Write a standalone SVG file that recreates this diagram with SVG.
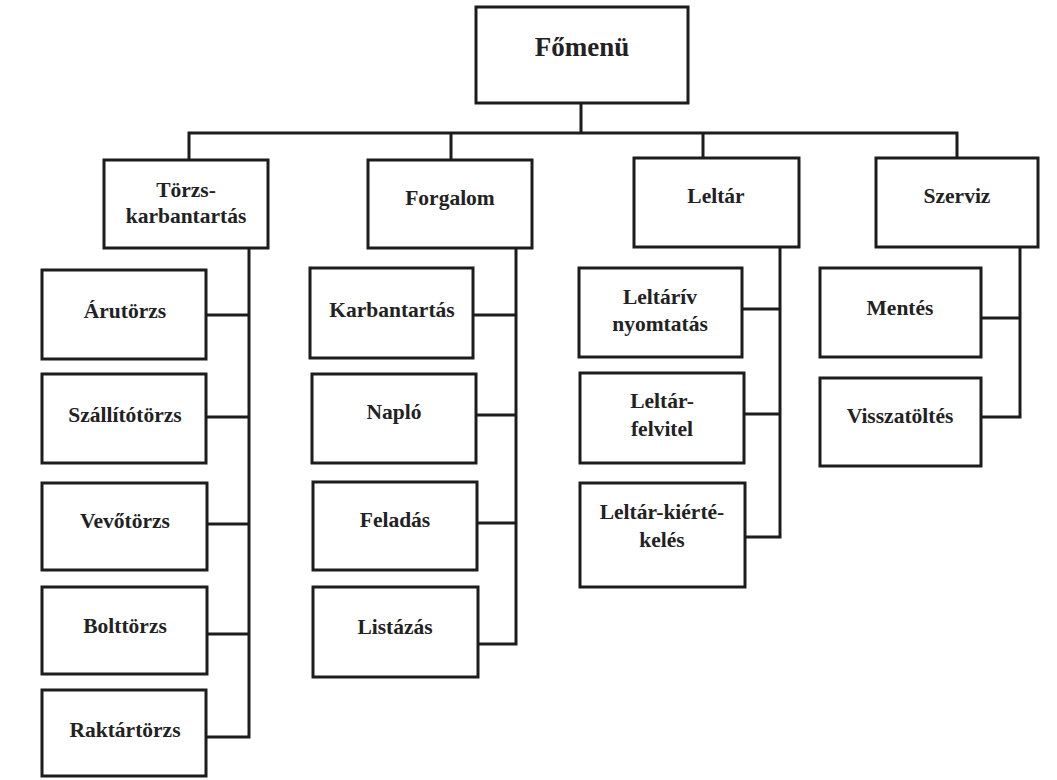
<svg xmlns="http://www.w3.org/2000/svg" width="1057" height="780" viewBox="0 0 1057 780">
  <style>
    .box { fill: #ffffff; stroke: #1c1c1c; stroke-width: 3; }
    .wire { fill: none; stroke: #1c1c1c; stroke-width: 3; stroke-linejoin: miter; }
    .lbl { font-family: "Liberation Serif", "Times New Roman", serif; font-size: 21.5px; font-weight: bold; fill: #222222; text-anchor: middle; }
    .root { font-size: 27px; }
  </style>
  <rect width="1057" height="780" fill="#ffffff"/>

  <!-- connectors -->
  <g id="connectors" class="wire">
    <path d="M581 103 V133 M189 160 V133 H957 V158 M451 133 V160 M703 133 V158"/>
    <!-- Törzs-karbantartás spine -->
    <path d="M249 248 V737 H206 M206 315 H249 M206 417 H249 M207 524 H249 M207 634 H249"/>
    <!-- Forgalom spine -->
    <path d="M516 248 V644 H478 M473 315 H516 M476 415 H516 M477 523 H516"/>
    <!-- Leltár spine -->
    <path d="M780 247 V537 H745 M742 309 H780 M744 414 H780"/>
    <!-- Szerviz spine -->
    <path d="M1020 247 V417 H981 M981 318 H1020"/>
  </g>

  <g id="fomenu">
    <rect class="box" x="476" y="7" width="212" height="96"/>
    <text class="lbl root" x="582" y="56">Főmenü</text>
  </g>

  <g id="torzskarbantartas">
    <rect class="box" x="104" y="160" width="164" height="88"/>
    <text class="lbl" x="186" y="197">Törzs-</text>
    <text class="lbl" x="186" y="223">karbantartás</text>
  </g>
  <g id="forgalom">
    <rect class="box" x="368" y="160" width="164" height="88"/>
    <text class="lbl" x="450" y="205">Forgalom</text>
  </g>
  <g id="leltar">
    <rect class="box" x="634" y="158" width="165" height="89"/>
    <text class="lbl" x="716" y="203">Leltár</text>
  </g>
  <g id="szerviz">
    <rect class="box" x="876" y="158" width="162" height="89"/>
    <text class="lbl" x="957" y="203">Szerviz</text>
  </g>

  <g id="arutorzs">
    <rect class="box" x="42" y="270" width="164" height="89"/>
    <text class="lbl" x="125" y="318">Árutörzs</text>
  </g>
  <g id="szallitotorzs">
    <rect class="box" x="42" y="374" width="164" height="89"/>
    <text class="lbl" x="125" y="422">Szállítótörzs</text>
  </g>
  <g id="vevotorzs">
    <rect class="box" x="42" y="483" width="165" height="87"/>
    <text class="lbl" x="125" y="528">Vevőtörzs</text>
  </g>
  <g id="bolttorzs">
    <rect class="box" x="42" y="587" width="165" height="87"/>
    <text class="lbl" x="125" y="633">Bolttörzs</text>
  </g>
  <g id="raktartorzs">
    <rect class="box" x="42" y="690" width="164" height="86"/>
    <text class="lbl" x="125" y="737">Raktártörzs</text>
  </g>

  <g id="karbantartas">
    <rect class="box" x="310" y="268" width="163" height="90"/>
    <text class="lbl" x="392" y="317">Karbantartás</text>
  </g>
  <g id="naplo">
    <rect class="box" x="312" y="374" width="164" height="89"/>
    <text class="lbl" x="394" y="419">Napló</text>
  </g>
  <g id="feladas">
    <rect class="box" x="313" y="482" width="164" height="88"/>
    <text class="lbl" x="395" y="527">Feladás</text>
  </g>
  <g id="listazas">
    <rect class="box" x="313" y="587" width="165" height="90"/>
    <text class="lbl" x="395" y="634">Listázás</text>
  </g>

  <g id="leltariv">
    <rect class="box" x="579" y="268" width="163" height="89"/>
    <text class="lbl" x="660" y="304">Leltárív</text>
    <text class="lbl" x="660" y="331">nyomtatás</text>
  </g>
  <g id="leltarfelvitel">
    <rect class="box" x="580" y="373" width="164" height="90"/>
    <text class="lbl" x="662" y="408">Leltár-</text>
    <text class="lbl" x="662" y="436">felvitel</text>
  </g>
  <g id="leltarkiertekeles">
    <rect class="box" x="580" y="483" width="165" height="104"/>
    <text class="lbl" x="662" y="519">Leltár-kiérté-</text>
    <text class="lbl" x="662" y="547">kelés</text>
  </g>

  <g id="mentes">
    <rect class="box" x="820" y="268" width="161" height="89"/>
    <text class="lbl" x="900" y="315">Mentés</text>
  </g>
  <g id="visszatoltes">
    <rect class="box" x="820" y="378" width="161" height="88"/>
    <text class="lbl" x="900" y="423">Visszatöltés</text>
  </g>
</svg>
